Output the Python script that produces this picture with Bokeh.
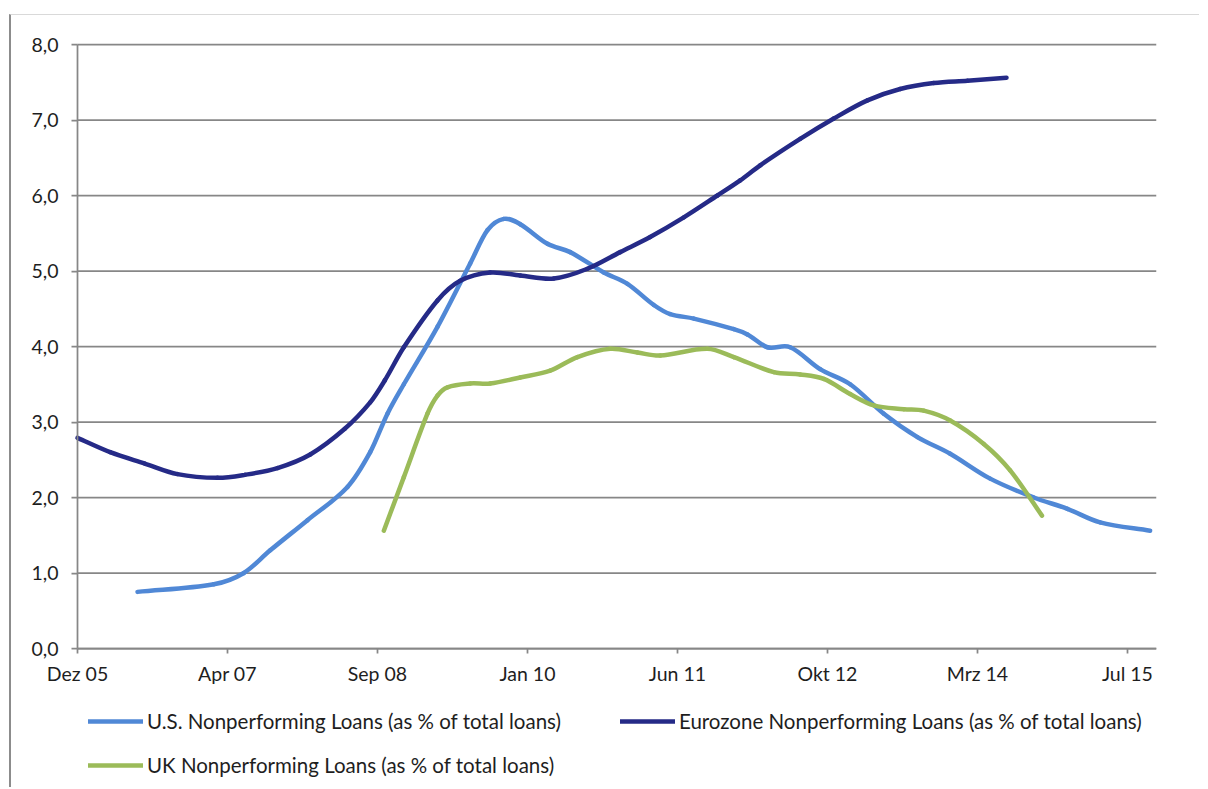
from bokeh.plotting import figure
from bokeh.models import Range1d, FixedTicker, Legend, LegendItem
from bokeh.embed import file_html
from bokeh.resources import INLINE

# x values: months after Dec 2005
x_tick_labels = ["Dez 05", "Apr 07", "Sep 08", "Jan 10", "Jun 11", "Okt 12", "Mrz 14", "Jul 15"]
x_tick_step = 16.5
x_end = 118.7
y_tick_labels = ["0,0", "1,0", "2,0", "3,0", "4,0", "5,0", "6,0", "7,0", "8,0"]

us_x = [6.6, 15.0, 18.3, 21.2, 25.3, 29.7, 32.2, 34.1, 35.9, 39.6, 43.2, 45.1, 46.9, 48.7,
        51.7, 54.2, 57.9, 60.5, 63.4, 65.2, 67.8, 72.2, 73.7, 75.9, 78.4, 81.7, 85.0, 88.7,
        92.4, 96.0, 100.4, 105.2, 108.9, 112.5, 118.0]
us_y = [0.75, 0.85, 1.00, 1.30, 1.70, 2.14, 2.60, 3.11, 3.50, 4.26, 5.10, 5.54, 5.69, 5.62,
        5.36, 5.25, 4.98, 4.83, 4.55, 4.43, 4.37, 4.23, 4.16, 3.99, 3.99, 3.70, 3.50, 3.11,
        2.80, 2.58, 2.25, 2.00, 1.85, 1.67, 1.56]

eu_x = [0.0, 3.6, 7.4, 11.0, 15.4, 18.4, 22.0, 25.6, 29.4, 32.2, 33.8, 35.9, 39.6, 42.1,
        45.4, 48.7, 52.4, 56.1, 59.7, 63.0, 66.7, 70.4, 72.9, 75.1, 79.5, 83.2, 86.9, 90.5,
        94.2, 97.9, 102.2]
eu_y = [2.79, 2.60, 2.45, 2.31, 2.26, 2.30, 2.39, 2.57, 2.91, 3.26, 3.55, 3.99, 4.61, 4.87,
        4.98, 4.94, 4.90, 5.03, 5.25, 5.45, 5.71, 6.00, 6.20, 6.40, 6.75, 7.02, 7.26, 7.41,
        7.49, 7.52, 7.56]

uk_x = [33.7, 35.9, 38.5, 39.6, 40.7, 43.2, 45.4, 48.7, 52.0, 55.0, 58.6, 61.6, 64.1, 69.3,
        72.2, 76.6, 79.5, 82.1, 85.0, 87.6, 90.9, 93.1, 96.0, 99.7, 102.6, 106.1]
uk_y = [1.56, 2.27, 3.11, 3.35, 3.46, 3.51, 3.51, 3.59, 3.68, 3.86, 3.97, 3.92, 3.88, 3.97,
        3.86, 3.66, 3.63, 3.57, 3.37, 3.22, 3.17, 3.15, 3.02, 2.71, 2.36, 1.76]

labels = ["U.S. Nonperforming Loans (as % of total loans)",
          "Eurozone Nonperforming Loans (as % of total loans)",
          "UK Nonperforming Loans (as % of total loans)"]
colors = ["#5088D6", "#252A87", "#9BBB59"]

FONT = "Lato"
TXT = "#1e1e1e"
GRID = "#878787"


def smooth_segments(xs, ys):
    """Cubic Hermite (Excel-like smoothing) as Bezier segments through the data points."""
    n = len(xs)
    m = []
    for i in range(n):
        if i == 0:
            m.append((ys[1] - ys[0]) / (xs[1] - xs[0]))
        elif i == n - 1:
            m.append((ys[-1] - ys[-2]) / (xs[-1] - xs[-2]))
        else:
            m.append((ys[i + 1] - ys[i - 1]) / (xs[i + 1] - xs[i - 1]))
    seg = dict(x0=[], y0=[], x1=[], y1=[], cx0=[], cy0=[], cx1=[], cy1=[])
    for i in range(n - 1):
        h = (xs[i + 1] - xs[i]) / 3.0
        seg["x0"].append(xs[i]); seg["y0"].append(ys[i])
        seg["x1"].append(xs[i + 1]); seg["y1"].append(ys[i + 1])
        seg["cx0"].append(xs[i] + h); seg["cy0"].append(ys[i] + m[i] * h)
        seg["cx1"].append(xs[i + 1] - h); seg["cy1"].append(ys[i + 1] - m[i + 1] * h)
    return seg


# Layout (screen px): figure content starts at (11, 15); plot area of the axes is
# x 77..1156, y 44 (8,0) .. 648 (0,0). The frame is made larger than that so the
# pinned axes, their labels and the legend are all drawn inside it.
W, H = 1190, 773
MB_LEFT, MB_TOP, MB_RIGHT = 2, 2, 45
frame_left = 11 + MB_LEFT
frame_top = 15 + MB_TOP
frame_bottom = 15 + H
px_per_x = (1156 - 77) / x_end
px_per_y = (648 - 44) / 8.0
X_START = -(77 - frame_left) / px_per_x
Y_TOP = 8.0 + (44 - frame_top) / px_per_y
Y_BOTTOM = -(frame_bottom - 648) / px_per_y

p = figure(width=W, height=H, output_backend="svg", toolbar_location=None,
           x_range=Range1d(X_START, x_end), y_range=Range1d(Y_BOTTOM, Y_TOP))
p.min_border_left = MB_LEFT
p.min_border_right = MB_RIGHT
p.min_border_top = MB_TOP
p.min_border_bottom = 0
p.outline_line_alpha = 0
p.background_fill_color = "white"
p.border_fill_color = "white"
p.styles = {"margin-left": "9px", "margin-top": "14px",
            "border-left": "2px solid #8c8c8c", "border-top": "1px solid #d9d9d9"}

xt = [i * x_tick_step for i in range(len(x_tick_labels))]
p.xaxis.ticker = FixedTicker(ticks=xt)
p.xaxis.major_label_overrides = {t: l for t, l in zip(xt, x_tick_labels)}
p.xaxis.fixed_location = 0
p.xaxis.bounds = (0, x_end)
yt = list(range(len(y_tick_labels)))
p.yaxis.ticker = FixedTicker(ticks=yt)
p.yaxis.major_label_overrides = {t: l for t, l in zip(yt, y_tick_labels)}
p.yaxis.fixed_location = 0
p.yaxis.bounds = (0, 8)

for ax in (p.xaxis[0], p.yaxis[0]):
    ax.axis_line_color = GRID
    ax.axis_line_width = 1.75
    ax.major_tick_line_color = GRID
    ax.major_tick_line_width = 1.75
    ax.major_tick_in = 0
    ax.minor_tick_line_alpha = 0
    ax.major_label_text_font = FONT
    ax.major_label_text_font_size = "19.5px"
    ax.major_label_text_color = TXT
p.xaxis.major_tick_out = 5
p.xaxis.major_label_standoff = 8
p.yaxis.major_tick_out = 6
p.yaxis.major_label_standoff = 13

# horizontal gridlines, limited to the plot area (x 0 .. x_end)
p.xgrid.visible = False
p.ygrid.visible = False
p.segment(x0=[0] * len(yt), x1=[x_end] * len(yt), y0=yt, y1=yt,
          line_color=GRID, line_width=1.75, level="underlay")

renderers = []
for xs, ys, c in ((us_x, us_y, colors[0]), (eu_x, eu_y, colors[1]), (uk_x, uk_y, colors[2])):
    s = smooth_segments(xs, ys)
    r = p.bezier(x0=s["x0"], y0=s["y0"], x1=s["x1"], y1=s["y1"],
                 cx0=s["cx0"], cy0=s["cy0"], cx1=s["cx1"], cy1=s["cy1"],
                 line_color=c, line_width=4.5, line_cap="round")
    renderers.append(r)

legend = Legend(items=[LegendItem(label=labels[0], renderers=[renderers[0]]),
                       LegendItem(label=labels[1], renderers=[renderers[1]]),
                       LegendItem(label=labels[2], renderers=[renderers[2]])],
                orientation="horizontal", nrows=2,
                location=(88 - frame_left, 11), margin=0, padding=0,
                glyph_width=55, glyph_height=20, label_height=20, label_width=453,
                label_standoff=4, spacing=20,
                label_text_font=FONT, label_text_font_size="20.5px", label_text_color=TXT,
                border_line_alpha=0, background_fill_alpha=0)
p.add_layout(legend, "center")

open("out.html", "w").write(file_html(p, INLINE))
